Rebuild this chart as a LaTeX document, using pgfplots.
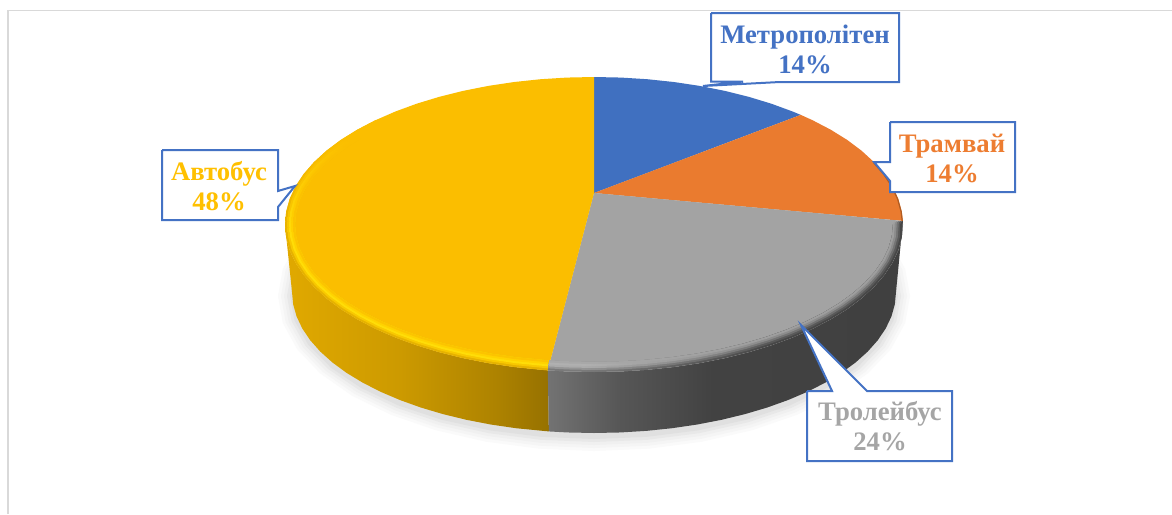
\documentclass[border=0pt]{standalone}
\usepackage{pgfplots}
\usepackage{pgfplotstable}
\usepackage{fontspec}
\setmainfont{Liberation Serif}
\pgfplotsset{compat=1.18}
\definecolor{cblue}{HTML}{4472C4}
\definecolor{corange}{HTML}{ED7D31}
\definecolor{cgrey}{HTML}{A5A5A5}
\definecolor{cyellow}{HTML}{FFC000}
\definecolor{pblue}{HTML}{4070C0}
\definecolor{porange}{HTML}{EA7B2F}
\definecolor{pgrey}{HTML}{A3A3A3}
\definecolor{pyellow}{HTML}{FBBE00}
\definecolor{ya}{HTML}{E6B200}
\definecolor{yb}{HTML}{F8C800}
\definecolor{yc}{HTML}{FFDD08}
\definecolor{yd}{HTML}{FFD200}
\definecolor{ye}{HTML}{FCC400}
\pgfdeclarehorizontalshading{greyside}{100bp}{color(0bp)=(black!55!white); color(25bp)=(black!55!white); color(35bp)=(black!66!white); color(48bp)=(black!74!white); color(75bp)=(black!75!white); color(100bp)=(black!75!white)}
\pgfdeclarehorizontalshading{yellowside}{100bp}{color(0bp)=(cyellow!88!black); color(25bp)=(cyellow!88!black); color(47bp)=(cyellow!80!black); color(65bp)=(cyellow!68!black); color(75bp)=(cyellow!59!black); color(100bp)=(cyellow!59!black)}
\newcommand\gshade[3]{\pgfdeclarehorizontalshading{#1}{100bp}{color(0bp)=(black!#2!white); color(30bp)=(black!#2!white); color(56bp)=(black!#3!white); color(100bp)=(black!#3!white)}}
\gshade{ga}{52}{72}
\gshade{gb}{42}{65}
\gshade{gc}{33}{55}
\gshade{gd}{31}{45}
\gshade{ge}{34}{38}
\newcommand\yshade[2]{\pgfdeclareverticalshading{#1}{100bp}{color(0bp)=(#2); color(52bp)=(#2); color(72bp)=(pyellow); color(100bp)=(pyellow)}}
\yshade{yra}{ya}
\yshade{yrb}{yb}
\yshade{yrc}{yc}
\yshade{yrd}{yd}
\yshade{yre}{ye}
% wedge outlines: s = sine, c = cosine of the position on the pie rim; first row = apex
\pgfplotstableread{
s c
0 .2136
0 1
.0872 .9962
.1736 .9848
.2588 .9659
.3420 .9397
.4226 .9063
.5 .8660
.5736 .8192
.6428 .7660
.6691 .7431
0 .2136
}\FB
\pgfplotstableread{
s c
0 .2136
.6691 .7431
.7071 .7071
.7660 .6428
.8192 .5736
.8660 .5
.9063 .4226
.9397 .3420
.9659 .2588
.9848 .1736
.9962 .0872
.9997 .0244
0 .2136
}\FO
\pgfplotstableread{
s c
0 .2136
.9997 .0244
1 0
.9962 -.0872
.9848 -.1736
.9659 -.2588
.9397 -.3420
.9063 -.4226
.8660 -.5
.8192 -.5736
.7660 -.6428
.7071 -.7071
.6428 -.7660
.5736 -.8192
.5 -.8660
.4226 -.9063
.3420 -.9397
.2588 -.9659
.1736 -.9848
.0872 -.9962
0 -1
-.0872 -.9962
-.1495 -.9888
0 .2136
}\FG
\pgfplotstableread{
s c
0 .2136
-.1495 -.9888
-.1736 -.9848
-.2588 -.9659
-.3420 -.9397
-.4226 -.9063
-.5 -.8660
-.5736 -.8192
-.6428 -.7660
-.7071 -.7071
-.7660 -.6428
-.8192 -.5736
-.8660 -.5
-.9063 -.4226
-.9397 -.3420
-.9659 -.2588
-.9848 -.1736
-.9962 -.0872
-1 0
-.9962 .0872
-.9848 .1736
-.9659 .2588
-.9397 .3420
-.9063 .4226
-.8660 .5
-.8192 .5736
-.7660 .6428
-.7071 .7071
-.6428 .7660
-.5736 .8192
-.5 .8660
-.4226 .9063
-.3420 .9397
-.2588 .9659
-.1736 .9848
-.0872 .9962
0 1
0 .2136
}\FY
\pgfplotstableread{
s c h
-.1495 -.9888 0
-.2588 -.9659 0
-.3420 -.9397 0
-.4226 -.9063 0
-.5 -.8660 0
-.5736 -.8192 0
-.6428 -.7660 0
-.7071 -.7071 0
-.7660 -.6428 0
-.8192 -.5736 0
-.8660 -.5 0
-.9063 -.4226 0
-.9397 -.3420 0
-.9659 -.2588 0
-.9848 -.1736 0
-.9962 -.0872 0
-1 0 0
-1 0 1
-.9962 -.0872 1
-.9848 -.1736 1
-.9659 -.2588 1
-.9397 -.3420 1
-.9063 -.4226 1
-.8660 -.5 1
-.8192 -.5736 1
-.7660 -.6428 1
-.7071 -.7071 1
-.6428 -.7660 1
-.5736 -.8192 1
-.5 -.8660 1
-.4226 -.9063 1
-.3420 -.9397 1
-.2588 -.9659 1
-.1495 -.9888 1
-.1495 -.9888 0
}\YS
\pgfplotstableread{
s c h
.9997 .0244 0
.9962 -.0872 0
.9848 -.1736 0
.9659 -.2588 0
.9397 -.3420 0
.9063 -.4226 0
.8660 -.5 0
.8192 -.5736 0
.7660 -.6428 0
.7071 -.7071 0
.6428 -.7660 0
.5736 -.8192 0
.5 -.8660 0
.4226 -.9063 0
.3420 -.9397 0
.2588 -.9659 0
.1736 -.9848 0
.0872 -.9962 0
0 -1 0
-.0872 -.9962 0
-.1495 -.9888 0
-.1495 -.9888 1
-.0872 -.9962 1
0 -1 1
.0872 -.9962 1
.1736 -.9848 1
.2588 -.9659 1
.3420 -.9397 1
.4226 -.9063 1
.5 -.8660 1
.5736 -.8192 1
.6428 -.7660 1
.7071 -.7071 1
.7660 -.6428 1
.8192 -.5736 1
.8660 -.5 1
.9063 -.4226 1
.9397 -.3420 1
.9659 -.2588 1
.9848 -.1736 1
.9962 -.0872 1
1 0 1
.9997 .0244 0
}\GS
\pgfplotstableread{
s c h
-.1495 -.9888 0
-.2588 -.9659 0
-.3420 -.9397 0
-.4226 -.9063 0
-.5 -.8660 0
-.5736 -.8192 0
-.6428 -.7660 0
-.7071 -.7071 0
-.7660 -.6428 0
-.8192 -.5736 0
-.8660 -.5 0
-.9063 -.4226 0
-.9397 -.3420 0
-.9659 -.2588 0
-.9848 -.1736 0
-.9962 -.0872 0
-1 0 0
-.9962 .0872 0
-.9848 .1736 0
-.9659 .2588 0
-.9397 .3420 0
-.9063 .4226 0
-.8660 .5 0
-.8192 .5736 0
-.7660 .6428 0
-.7071 .7071 0
-.7071 .7071 1
-.7660 .6428 1
-.8192 .5736 1
-.8660 .5 1
-.9063 .4226 1
-.9397 .3420 1
-.9659 .2588 1
-.9848 .1736 1
-.9962 .0872 1
-1 0 1
-.9962 -.0872 1
-.9848 -.1736 1
-.9659 -.2588 1
-.9397 -.3420 1
-.9063 -.4226 1
-.8660 -.5 1
-.8192 -.5736 1
-.7660 -.6428 1
-.7071 -.7071 1
-.6428 -.7660 1
-.5736 -.8192 1
-.5 -.8660 1
-.4226 -.9063 1
-.3420 -.9397 1
-.2588 -.9659 1
-.1495 -.9888 1
-.1495 -.9888 0
}\YB
\pgfplotstableread{
s c
.9063 .4226
.9397 .3420
.9659 .2588
.9848 .1736
.9962 .0872
.9997 .0244
}\RO
\pgfplotstableread{
s c
0 1
.1736 .9848
.3420 .9397
.5 .8660
.6428 .7660
.7660 .6428
.8660 .5
.9397 .3420
.9848 .1736
1 0
.9848 -.1736
.9397 -.3420
.8660 -.5
.7660 -.6428
.6428 -.7660
.5 -.8660
.3420 -.9397
.1736 -.9848
0 -1
-.1736 -.9848
-.3420 -.9397
-.5 -.8660
-.6428 -.7660
-.7660 -.6428
-.8660 -.5
-.9397 -.3420
-.9848 -.1736
-1 0
-.9848 .1736
-.9397 .3420
-.8660 .5
-.7660 .6428
-.6428 .7660
-.5 .8660
-.3420 .9397
-.1736 .9848
0 1
}\EL
\newcommand\face[2]{\addplot[draw=none,fill=#2,forget plot] table[x expr={594+309*\thisrow{s}},y expr={224.5-147.5*\thisrow{c}}]{#1};}
\newcommand\side[2]{\addplot[draw=none,shade,shading=#2,forget plot] table[x expr={594+(309-7*\thisrow{h})*\thisrow{s}},y expr={224.5+67.5*\thisrow{h}-(147.5-6.5*\thisrow{h})*\thisrow{c}}]{#1};}
% a band of the bevel from #2 px inside the rim to 10 px inside it
\newcommand\band[3]{\addplot[draw=none,shade,shading=#3,forget plot] table[x expr={594+(309-#2-(10-#2)*\thisrow{h})*\thisrow{s}},y expr={224.5-(147.5-#2-(10-#2)*\thisrow{h})*\thisrow{c}}]{#1};}
\newcommand\rim[4]{\addplot[draw=#3,line width=#4,forget plot] table[x expr={594+(309-#2)*\thisrow{s}},y expr={224.5-(147.5-#2)*\thisrow{c}}]{#1};}
\newcommand\shadow[2]{\addplot[draw=none,fill=#2,forget plot] table[x expr={594+(302+#1)*\thisrow{s}},y expr={296-(141+#1)*\thisrow{c}}]{\EL};}
\newcommand\lab[5]{\node[anchor=base,text=#1,font=\fontsize{26.7}{30}\selectfont\bfseries] at (axis cs:#2,#3) {#4}; \node[anchor=base,text=#1,font=\fontsize{26.7}{30}\selectfont\bfseries] at (axis cs:#2,#3+30.5) {#5};}
\begin{document}
\begin{tikzpicture}
\begin{axis}[
  scale only axis, width=1172pt, height=514pt,
  xmin=0, xmax=1172, ymin=0, ymax=514, y dir=reverse,
  hide axis, no markers, line join=miter,
  clip=true]
\addplot[draw=white,fill=white,forget plot] coordinates {(0,0)(1172,0)(1172,514)(0,514)(0,0)};
\addplot[draw=black!15,line width=1.5pt,forget plot] coordinates {(8,514)(8,10.5)(1172,10.5)};
% soft shadow
\shadow{14}{black!2}
\shadow{11}{black!4}
\shadow{8}{black!6}
\shadow{5}{black!9}
\shadow{2}{black!12}
% sides
\side{\YS}{yellowside}
\side{\GS}{greyside}
% faces: 14, 14, 24, 48 per cent
\face{\FB}{pblue}
\face{\FO}{porange}
\face{\FG}{pgrey}
\face{\FY}{pyellow}
% bevel
\band{\YB}{0}{yra}
\band{\YB}{2}{yrb}
\band{\YB}{4}{yrc}
\band{\YB}{6}{yrd}
\band{\YB}{8}{yre}
\band{\GS}{0}{ga}
\band{\GS}{2}{gb}
\band{\GS}{4}{gc}
\band{\GS}{6}{gd}
\band{\GS}{8}{ge}
\rim{\RO}{0.7}{porange!75!black}{1.2pt}
% callouts
\addplot[draw=cblue,line width=2pt,fill=white,forget plot] coordinates {(711,13)(899,13)(899,82)(780,82)(703,86)(743,81.5)(711,81.5)(711,13)};
\addplot[draw=cblue,line width=2pt,fill=white,forget plot] coordinates {(890,122)(1015,122)(1015,192)(890,192)(890,181)(874,162)(890,162)(890,122)};
\addplot[draw=cblue,line width=2pt,fill=white,forget plot] coordinates {(807,391)(832,391)(801,325)(867,391)(952,391)(952,461)(807,461)(807,391)};
\addplot[draw=cblue,line width=2pt,fill=white,forget plot] coordinates {(162,150)(278,150)(278,191)(295,186)(278,207)(278,220)(162,220)(162,150)};
% labels
\lab{cblue}{805}{43}{Метрополітен}{14\%}
\lab{corange}{952}{152}{Трамвай}{14\%}
\lab{cgrey}{880}{420}{Тролейбус}{24\%}
\lab{cyellow}{219}{180}{Автобус}{48\%}
\end{axis}
\end{tikzpicture}
\end{document}
